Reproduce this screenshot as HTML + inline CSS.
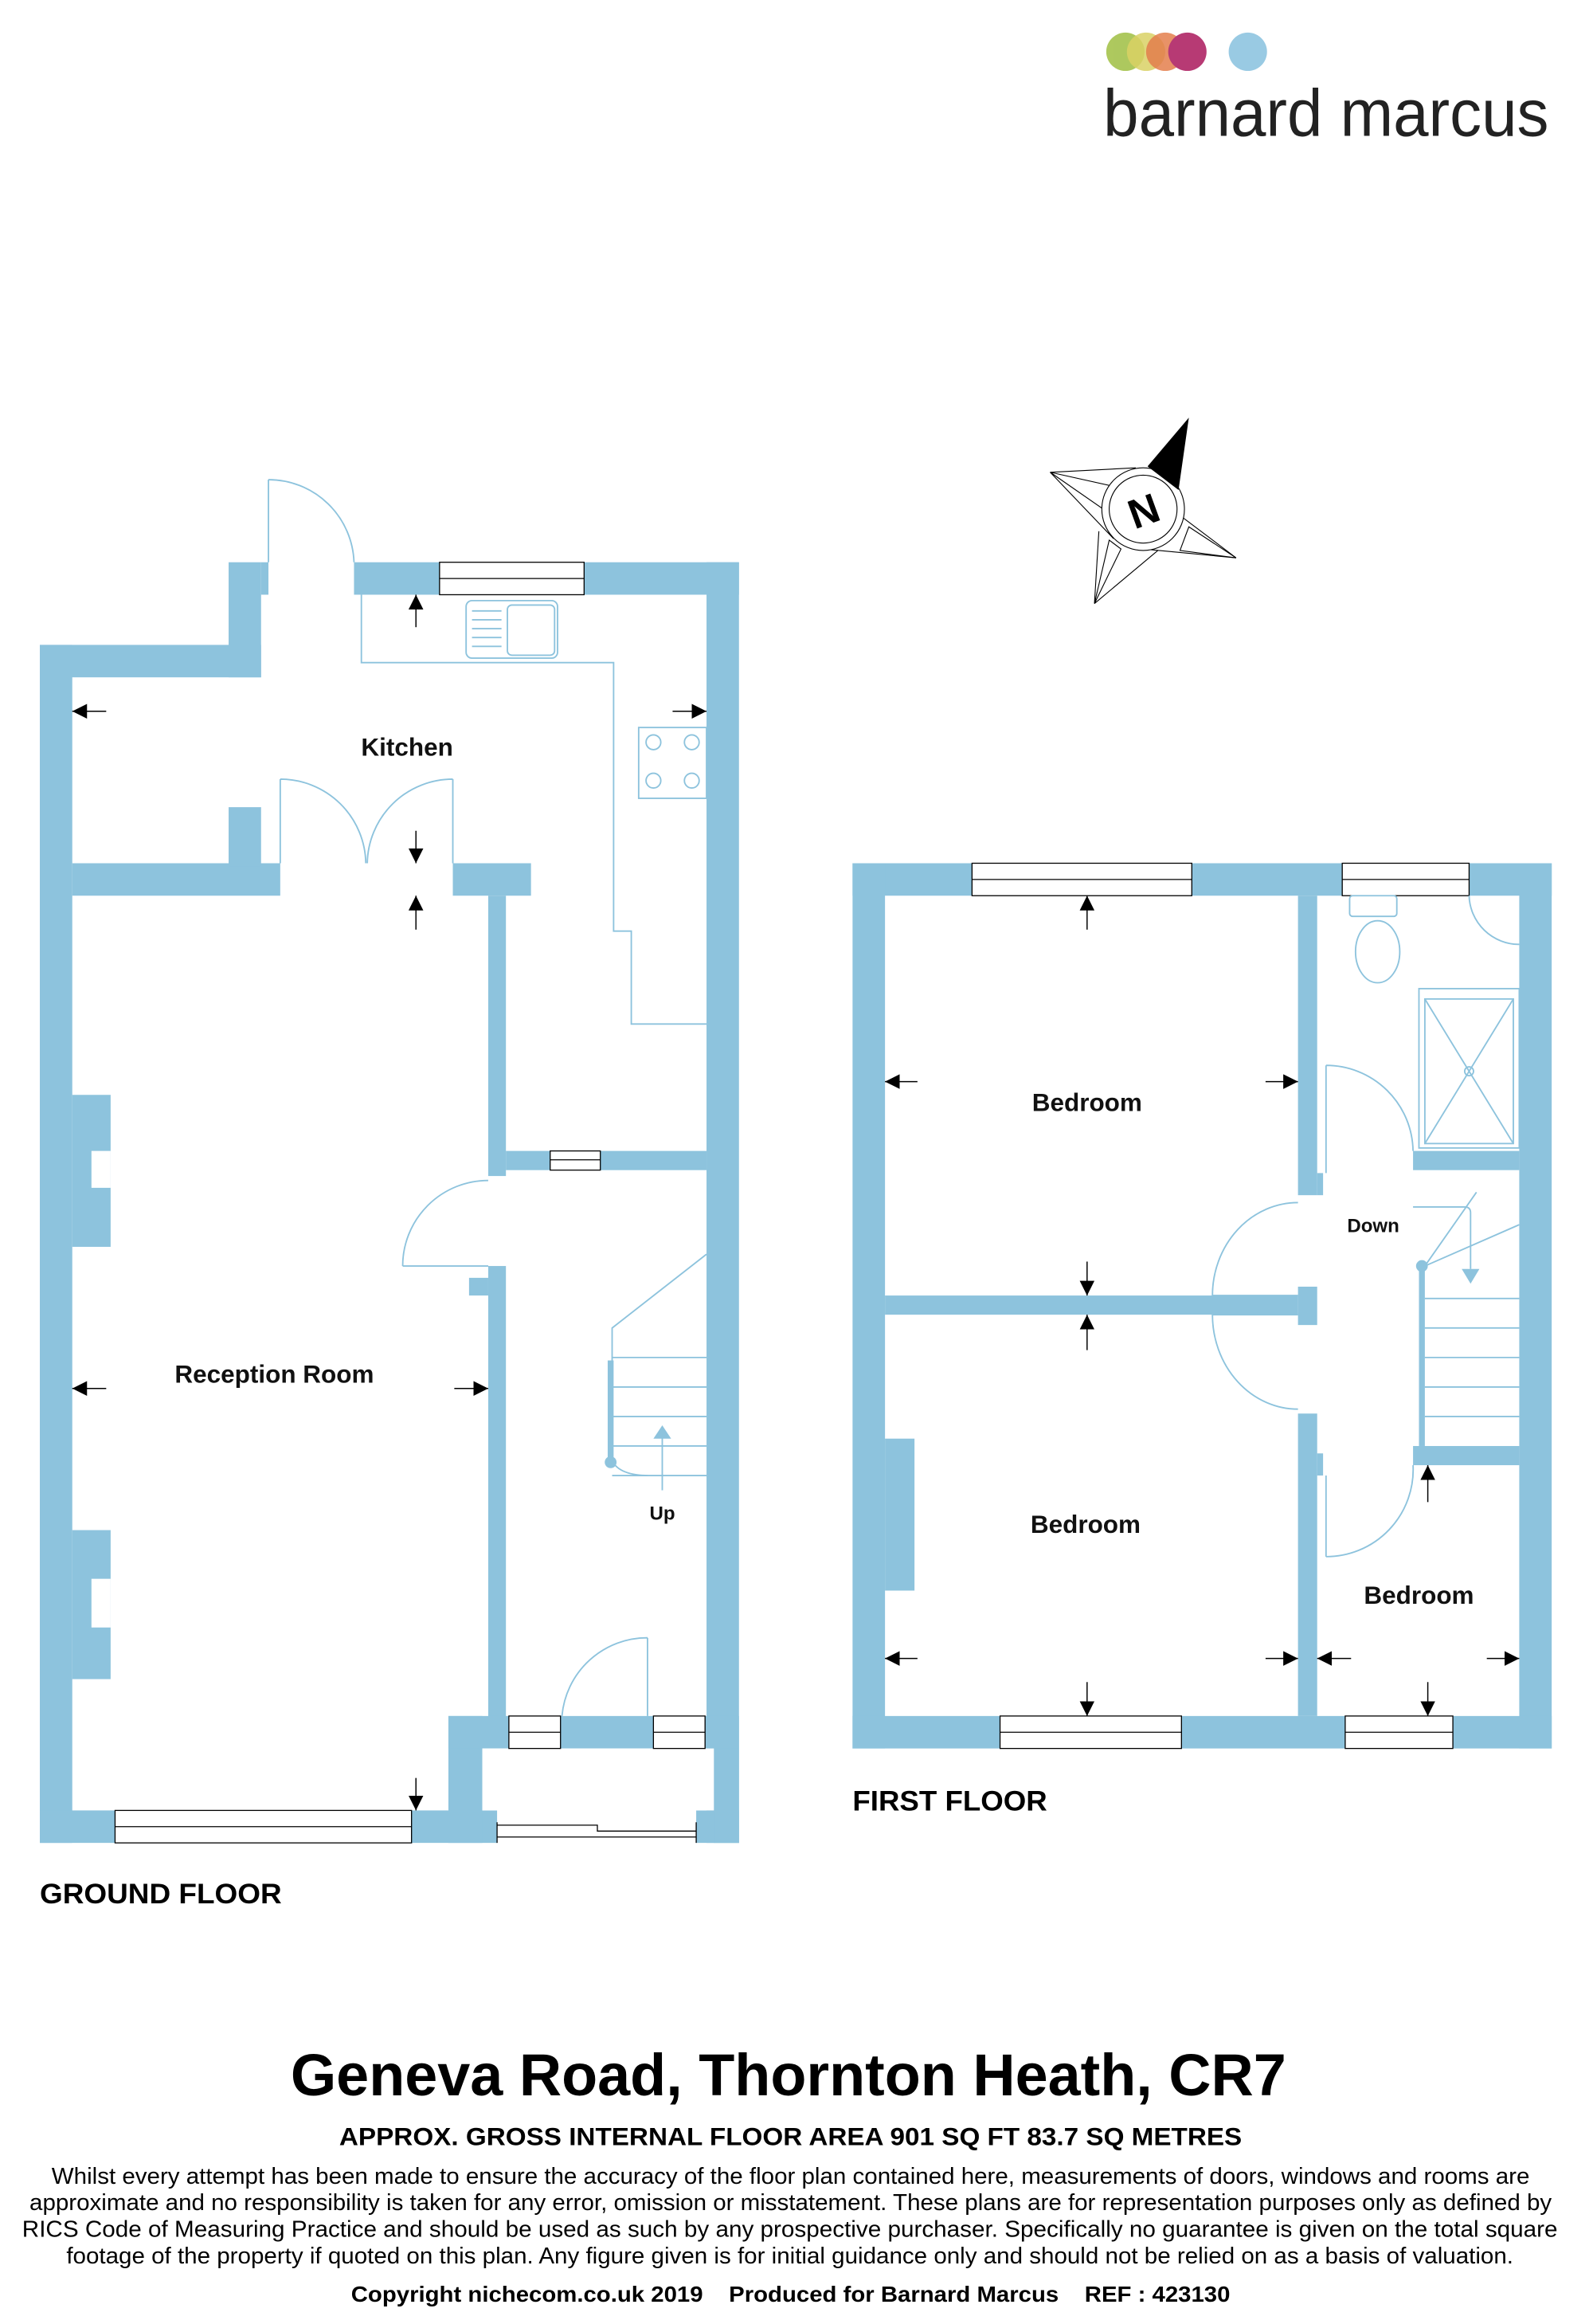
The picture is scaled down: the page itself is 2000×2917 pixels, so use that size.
<!DOCTYPE html>
<html><head><meta charset="utf-8"><style>
html,body{margin:0;padding:0;background:#fff}
svg{display:block}
text{font-family:"Liberation Sans",Arial,sans-serif}
</style></head><body>
<svg width="2000" height="2917" viewBox="0 0 1080 1575" xmlns="http://www.w3.org/2000/svg">
<defs>
<marker id="ah" viewBox="0 0 10 10" refX="10" refY="5" markerWidth="10" markerHeight="10" markerUnits="userSpaceOnUse" orient="auto"><path d="M0,0L10,5L0,10z" fill="#000"/></marker>
</defs>
<!-- Logo -->
<g opacity="0.9">
<circle cx="763" cy="35" r="13" fill="#a5c34d"/>
<circle cx="777" cy="35" r="13" fill="#d6cc55" opacity="0.85"/>
<circle cx="790" cy="35" r="13" fill="#e0713a" opacity="0.85"/>
<circle cx="805" cy="35" r="13" fill="#b02565"/>
<circle cx="846" cy="35" r="13" fill="#8ec4e0"/>
</g>
<text x="748" y="92" font-size="45" fill="#222" textLength="302" lengthAdjust="spacingAndGlyphs">barnard marcus</text>

<!-- Compass -->
<g stroke="#000" stroke-width="0.6" fill="none">
<polygon points="712,320 757,330 748,345"/>
<polygon points="838,378 800,373 806,357"/>
<polygon points="742,409 760,372 752,366"/>
<line x1="712" y1="320" x2="770" y2="317"/>
<line x1="712" y1="320" x2="755" y2="365"/>
<line x1="838" y1="378" x2="797" y2="347"/>
<line x1="838" y1="378" x2="775" y2="372"/>
<line x1="742" y1="409" x2="745" y2="360"/>
<line x1="742" y1="409" x2="785" y2="373"/>
<circle cx="775" cy="345" r="28" fill="#fff"/>
<circle cx="775" cy="345" r="23"/>
</g>
<polygon points="806,283 799,332 778,316" fill="#000"/>
<text x="775" y="356" font-size="28" font-weight="bold" text-anchor="middle" transform="rotate(-20 775 345)">N</text>

<!-- GROUND FLOOR walls -->
<g fill="#8dc3dd">
<rect x="27" y="437" width="22" height="812"/>
<rect x="27" y="437" width="150" height="22"/>
<rect x="155" y="381" width="22" height="78"/>
<rect x="177" y="381" width="5" height="22"/>
<rect x="240" y="381" width="261" height="22"/>
<rect x="479" y="381" width="22" height="868"/>
<rect x="27" y="1227" width="310" height="22"/>
<rect x="304" y="1163" width="23" height="86"/>
<rect x="472" y="1227" width="29" height="22"/>
<rect x="484" y="1185" width="17" height="64"/>
<rect x="49" y="585" width="141" height="22"/>
<rect x="155" y="547" width="22" height="40"/>
<rect x="307" y="585" width="53" height="22"/>
<rect x="331" y="607" width="12" height="190"/>
<rect x="343" y="780" width="136" height="13"/>
<rect x="331" y="858" width="12" height="310"/>
<rect x="318" y="866" width="13" height="12"/>
<rect x="304" y="1163" width="197" height="22"/>
<rect x="49" y="742" width="26" height="103"/>
<rect x="49" y="1037" width="26" height="101"/>
</g>
<g fill="#fff">
<rect x="62" y="780" width="13" height="25"/>
<rect x="62" y="1070" width="13" height="33"/>
<rect x="327" y="1185" width="157" height="42"/>
</g>
<!-- GF windows -->
<g fill="#fff" stroke="#000" stroke-width="0.7">
<rect x="298" y="381" width="98" height="22"/><line x1="298" y1="392" x2="396" y2="392"/>
<rect x="373" y="780" width="34" height="13"/><line x1="373" y1="786" x2="407" y2="786"/>
<rect x="78" y="1227" width="201" height="22"/><line x1="78" y1="1238" x2="279" y2="1238"/>
<rect x="345" y="1163" width="35" height="22"/><line x1="345" y1="1174" x2="380" y2="1174"/>
<rect x="443" y="1163" width="35" height="22"/><line x1="443" y1="1174" x2="478" y2="1174"/>
<path d="M337,1237 H405 V1241 H472 M337,1245 H472 M337,1235 V1249 M472,1235 V1249" fill="none"/>
</g>
<!-- GF doors and fittings -->
<g fill="none" stroke="#8dc3dd" stroke-width="1">
<path d="M182,325 V381 M182,325 A58,58 0 0 1 240,381"/>
<path d="M190,528 V585 M190,528 A58,58 0 0 1 248,585"/>
<path d="M307,528 V585 M307,528 A58,58 0 0 0 249,585"/>
<path d="M273,858 H331 M331,800 A58,58 0 0 0 273,858"/>
<path d="M439,1110 V1163 M439,1110 A58,58 0 0 0 381,1163"/>
<path d="M245,403 V449 H416 V631 H428 V694 H479"/>
<rect x="316" y="407" width="62" height="39" rx="4"/>
<rect x="344" y="410" width="32" height="34" rx="3"/>
<path d="M320,414 H340 M320,420 H340 M320,426 H340 M320,432 H340 M320,438 H340"/>
<rect x="433" y="493" width="46" height="48"/>
<circle cx="443" cy="503" r="5"/><circle cx="469" cy="503" r="5"/>
<circle cx="443" cy="529" r="5"/><circle cx="469" cy="529" r="5"/>
<path d="M479,850 L415,900 V990 M415,920 H479 M415,940 H479 M415,960 H479 M415,980 H479 M415,1000 H479 M415,990 Q420,1000 440,1000"/>
<path d="M449,1010 V970"/>
</g>
<rect x="412" y="922" width="4" height="70" fill="#8dc3dd"/>
<circle cx="414" cy="991" r="4" fill="#8dc3dd"/>
<polygon points="443,975 455,975 449,966" fill="#8dc3dd"/>
<!-- GF arrows -->
<g stroke="#000" stroke-width="0.8" marker-end="url(#ah)">
<line x1="282" y1="425" x2="282" y2="403"/>
<line x1="72" y1="482" x2="49" y2="482"/>
<line x1="456" y1="482" x2="479" y2="482"/>
<line x1="282" y1="563" x2="282" y2="585"/>
<line x1="282" y1="630" x2="282" y2="607"/>
<line x1="72" y1="941" x2="49" y2="941"/>
<line x1="308" y1="941" x2="331" y2="941"/>
<line x1="282" y1="1205" x2="282" y2="1227"/>
</g>

<!-- FIRST FLOOR walls -->
<g fill="#8dc3dd">
<rect x="578" y="585" width="474" height="22"/>
<rect x="578" y="585" width="22" height="600"/>
<rect x="1030" y="585" width="22" height="600"/>
<rect x="578" y="1163" width="474" height="22"/>
<rect x="880" y="607" width="13" height="203"/>
<rect x="893" y="795" width="4" height="15"/>
<rect x="958" y="780" width="72" height="13"/>
<rect x="600" y="878" width="280" height="13"/>
<rect x="880" y="872" width="13" height="26"/>
<rect x="880" y="958" width="13" height="205"/>
<rect x="893" y="985" width="4" height="15"/>
<rect x="958" y="980" width="72" height="13"/>
<rect x="962" y="858" width="4" height="122"/>
<rect x="600" y="975" width="20" height="103"/>
</g>
<circle cx="964" cy="858" r="4" fill="#8dc3dd"/>
<g fill="#fff" stroke="#000" stroke-width="0.7">
<rect x="659" y="585" width="149" height="22"/><line x1="659" y1="596" x2="808" y2="596"/>
<rect x="910" y="585" width="86" height="22"/><line x1="910" y1="596" x2="996" y2="596"/>
<rect x="678" y="1163" width="123" height="22"/><line x1="678" y1="1174" x2="801" y2="1174"/>
<rect x="912" y="1163" width="73" height="22"/><line x1="912" y1="1174" x2="985" y2="1174"/>
</g>
<g fill="none" stroke="#8dc3dd" stroke-width="1">
<path d="M899,722 V795 M899,722 A59,59 0 0 1 958,780"/>
<path d="M880,815 A58,63 0 0 0 822,878 H880"/>
<path d="M880,955 A58,64 0 0 1 822,891 H880"/>
<path d="M899,1055 V1000 M899,1055 A59,59 0 0 0 958,993"/>
<rect x="915" y="607" width="32" height="14" rx="2"/>
<ellipse cx="934" cy="645" rx="15" ry="21"/>
<path d="M996,607 A34,34 0 0 0 1030,640"/>
<rect x="962" y="670" width="68" height="108"/>
<rect x="966" y="677" width="60" height="98"/>
<path d="M966,677 L1026,775 M1026,677 L966,775"/>
<circle cx="996" cy="726" r="3"/>
<path d="M966,858 L1001,808 M966,858 L1030,830 M966,880 H1030 M966,900 H1030 M966,920 H1030 M966,940 H1030 M966,960 H1030"/>
<path d="M958,818 H993 Q997,818 997,822 V860"/>
</g>
<polygon points="991,860 1003,860 997,870" fill="#8dc3dd"/>
<g stroke="#000" stroke-width="0.8" marker-end="url(#ah)">
<line x1="737" y1="630" x2="737" y2="607"/>
<line x1="622" y1="733" x2="600" y2="733"/>
<line x1="858" y1="733" x2="880" y2="733"/>
<line x1="737" y1="855" x2="737" y2="878"/>
<line x1="737" y1="915" x2="737" y2="891"/>
<line x1="622" y1="1124" x2="600" y2="1124"/>
<line x1="858" y1="1124" x2="880" y2="1124"/>
<line x1="737" y1="1140" x2="737" y2="1163"/>
<line x1="916" y1="1124" x2="893" y2="1124"/>
<line x1="1008" y1="1124" x2="1030" y2="1124"/>
<line x1="968" y1="1140" x2="968" y2="1163"/>
<line x1="968" y1="1018" x2="968" y2="993"/>
</g>

<!-- Labels -->
<g font-weight="bold" fill="#111" text-anchor="middle">
<text x="276" y="512" font-size="17">Kitchen</text>
<text x="186" y="937" font-size="17">Reception Room</text>
<text x="449" y="1030" font-size="13">Up</text>
<text x="737" y="753" font-size="17">Bedroom</text>
<text x="736" y="1039" font-size="17">Bedroom</text>
<text x="962" y="1087" font-size="17">Bedroom</text>
<text x="931" y="835" font-size="13">Down</text>
</g>
<text x="27" y="1290" font-size="19" font-weight="bold" textLength="164" lengthAdjust="spacingAndGlyphs">GROUND FLOOR</text>
<text x="578" y="1227" font-size="19" font-weight="bold" textLength="132" lengthAdjust="spacingAndGlyphs">FIRST FLOOR</text>

<g fill="#000">
<text x="197" y="1420" font-size="40" font-weight="bold" textLength="675" lengthAdjust="spacingAndGlyphs">Geneva Road, Thornton Heath, CR7</text>
<text x="230" y="1454" font-size="17" font-weight="bold" textLength="612" lengthAdjust="spacingAndGlyphs">APPROX. GROSS INTERNAL FLOOR AREA 901 SQ FT 83.7 SQ METRES</text>
<text x="35" y="1480" font-size="15.5" textLength="1002" lengthAdjust="spacingAndGlyphs">Whilst every attempt has been made to ensure the accuracy of the floor plan contained here, measurements of doors, windows and rooms are</text>
<text x="20" y="1498" font-size="15.5" textLength="1032" lengthAdjust="spacingAndGlyphs">approximate and no responsibility is taken for any error, omission or misstatement. These plans are for representation purposes only as defined by</text>
<text x="15" y="1516" font-size="15.5" textLength="1041" lengthAdjust="spacingAndGlyphs">RICS Code of Measuring Practice and should be used as such by any prospective purchaser.  Specifically no guarantee is given on the total square</text>
<text x="45" y="1534" font-size="15.5" textLength="981" lengthAdjust="spacingAndGlyphs">footage of the property if quoted on this plan. Any figure given is for initial guidance only and should not be relied on as a basis of valuation.</text>
<text x="238" y="1560" font-size="15" font-weight="bold" textLength="596" lengthAdjust="spacingAndGlyphs" xml:space="preserve">Copyright nichecom.co.uk 2019    Produced for Barnard Marcus    REF : 423130</text>
</g>
</svg>
</body></html>
